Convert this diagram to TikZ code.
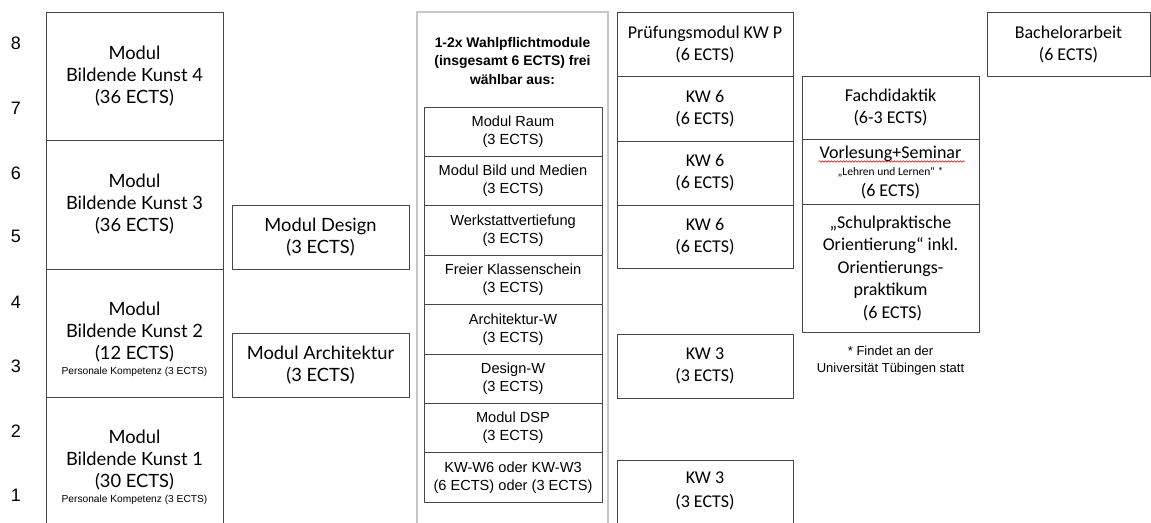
\documentclass[tikz,border=0pt]{standalone}
\usepackage{fontspec}
\setmainfont{Carlito}
\newfontfamily\lato{Lato}
\newfontfamily\helv{Liberation Sans}
\usetikzlibrary{decorations.pathmorphing}
\tikzset{
  box/.style={draw=black!72, line width=0.9pt, rectangle, inner sep=0pt, align=center},
  wbox/.style={box, minimum width=178pt, minimum height=49.4pt, font=\helv\fontsize{14.6}{18}\selectfont},
  cbox/.style={box, minimum width=176pt, font=\fontsize{18}{22}\selectfont},
  lbox/.style={box, minimum width=177pt},
  ltxt/.style={align=center, inner sep=0pt, font=\lato\fontsize{18.3}{22}\selectfont},
  num/.style={inner sep=0pt, font=\helv\fontsize{18}{20}\selectfont},
  outer/.style={draw=black!22, line width=2.6pt, rectangle, inner sep=0pt}
}
\newcommand{\perskomp}{{\helv\fontsize{10.2}{12}\selectfont Personale Kompetenz (3 ECTS)}}
\begin{document}
\begin{tikzpicture}[x=1pt,y=-1pt]
\useasboundingbox (0,0) rectangle (1151,522);
\clip (0,0) rectangle (1151,522);
% semester numbers
\node[num] (n8) at (16,43) {8};
\node[num] (n7) at (16,108) {7};
\node[num] (n6) at (16,173) {6};
\node[num] (n5) at (16,236) {5};
\node[num] (n4) at (16,302) {4};
\node[num] (n3) at (16,366) {3};
\node[num] (n2) at (16,431) {2};
\node[num] (n1) at (16,495) {1};
% left column
\node[lbox, minimum height=128pt, ltxt] (bk4) at (134.5,76) {Modul\\Bildende Kunst 4\\(36 ECTS)};
\node[lbox, minimum height=129pt, ltxt] (bk3) at (134.5,204.5) {Modul\\Bildende Kunst 3\\(36 ECTS)};
\node[lbox, minimum height=128pt] (bk2) at (134.5,333) {};
\node[ltxt] (bk2t) at (134.5,339.5) {Modul\\Bildende Kunst 2\\(12 ECTS)\\[-7pt]\perskomp};
\node[lbox, minimum height=220pt] (bk1) at (134.5,507) {};
\node[ltxt] (bk1t) at (134.5,467.5) {Modul\\Bildende Kunst 1\\(30 ECTS)\\[-7pt]\perskomp};
% second column
\node[lbox, minimum height=64pt, ltxt] (des) at (320.5,237) {Modul Design\\(3 ECTS)};
\node[lbox, minimum height=64pt, ltxt] (arc) at (320.5,365) {Modul Architektur\\(3 ECTS)};
% Wahlpflicht column
\node[outer, minimum width=191pt, minimum height=600pt] (wp) at (512.5,312) {};
\node[align=center, inner sep=0pt, font=\helv\bfseries\fontsize{13.9}{18.5}\selectfont] (wpt) at (512.5,61) {1-2x Wahlpflichtmodule\\(insgesamt 6 ECTS) frei\\wählbar aus:};
\node[wbox] (w1) at (513,131.7) {Modul Raum\\(3 ECTS)};
\node[wbox] (w2) at (513,181.1) {Modul Bild und Medien\\(3 ECTS)};
\node[wbox] (w3) at (513,230.5) {Werkstattvertiefung\\(3 ECTS)};
\node[wbox] (w4) at (513,279.9) {Freier Klassenschein\\(3 ECTS)};
\node[wbox] (w5) at (513,329.3) {Architektur-W\\(3 ECTS)};
\node[wbox] (w6) at (513,378.7) {Design-W\\(3 ECTS)};
\node[wbox] (w7) at (513,428.1) {Modul DSP\\(3 ECTS)};
\node[wbox] (w8) at (513,477.5) {KW-W6 oder KW-W3\\(6 ECTS) oder (3 ECTS)};
% KW column
\node[cbox, minimum height=64pt] (kwp) at (705,44) {Prüfungsmodul KW P\\(6 ECTS)};
\node[cbox, minimum height=65pt] (kw6a) at (705,108.5) {KW 6\\(6 ECTS)};
\node[cbox, minimum height=64pt] (kw6b) at (705,173) {KW 6\\(6 ECTS)};
\node[cbox, minimum height=63pt] (kw6c) at (705,236.5) {KW 6\\(6 ECTS)};
\node[cbox, minimum height=64pt] (kw3a) at (705,366) {KW 3\\(3 ECTS)};
\node[cbox, minimum height=140pt] (kw3b) at (705,530) {};
\node[align=center, inner sep=0pt, font=\fontsize{18}{24}\selectfont] (kw3bt) at (705,490.5) {KW 3\\(3 ECTS)};
% Fachdidaktik column
\node[cbox, minimum width=177pt, minimum height=63pt] (fd) at (890.5,107.5) {Fachdidaktik\\(6-3 ECTS)};
\node[cbox, minimum width=177pt, minimum height=65pt] (vs) at (890.5,171.5) {};
\node[align=center, inner sep=0pt, font=\fontsize{18}{19.5}\selectfont] (vst) at (890.5,172.5) {Vorlesung+Seminar\\[-2.5pt]{\fontsize{11.5}{13}\selectfont „Lehren und Lernen“ *}\\[2pt](6 ECTS)};
\draw[red!85!black, line width=0.5pt, decorate, decoration={snake, amplitude=0.8pt, segment length=3pt}] ([xshift=-72pt,yshift=11pt]vst.center) -- ([xshift=74pt,yshift=11pt]vst.center);
\node[cbox, minimum width=177pt, minimum height=128pt, font=\fontsize{18}{22.5}\selectfont] (sp) at (890.5,268) {„Schulpraktische\\Orientierung“ inkl.\\Orientierungs-\\praktikum\\ \ (6 ECTS)};
\node[align=center, inner sep=0pt, font=\helv\fontsize{13}{17}\selectfont] (fn) at (890.5,360.5) {* Findet an der\\Universität Tübingen statt};
% Bachelorarbeit
\node[box, minimum width=163pt, minimum height=64pt, font=\fontsize{18}{22}\selectfont] (ba) at (1068.5,44) {Bachelorarbeit\\(6 ECTS)};
\end{tikzpicture}
\end{document}
